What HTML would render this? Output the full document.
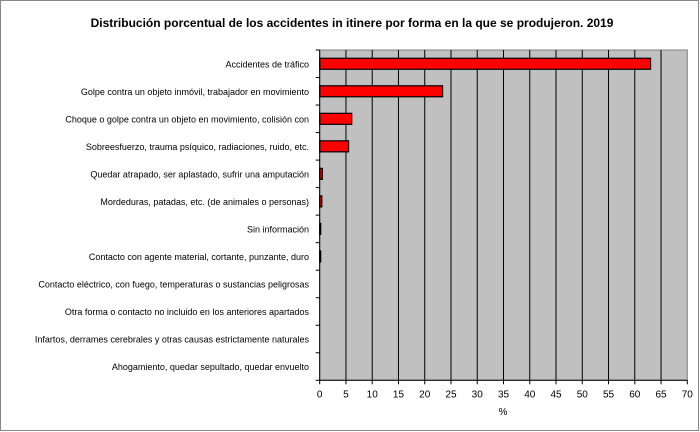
<!DOCTYPE html>
<html><head><meta charset="utf-8"><style>
body{margin:0;background:#fff}
svg{display:block;font-family:"Liberation Sans",Arial,sans-serif}
</style></head><body>
<svg id="chart" width="700" height="432">
<rect x="0.5" y="0.5" width="698" height="430" fill="#fff" stroke="#888"/>
<text x="352" y="27" text-anchor="middle" font-size="12" font-weight="bold">Distribución porcentual de los accidentes in itinere por forma en la que se produjeron. 2019</text>
<rect x="319.7" y="50" width="367.6" height="330.3" fill="#c0c0c0" stroke="#808080"/>
<g id="grid"></g><g id="bars"></g><g id="axes"></g>
<text x="503" y="415" text-anchor="middle" font-size="10">%</text>
</svg>
<script>
const categories=["Accidentes  de tráfico","Golpe contra un objeto inmóvil, trabajador en movimiento","Choque o golpe contra un objeto en movimiento, colisión con","Sobreesfuerzo, trauma psíquico, radiaciones, ruido, etc.","Quedar atrapado, ser aplastado, sufrir una amputación","Mordeduras, patadas, etc. (de animales o personas)","Sin información","Contacto con agente material, cortante, punzante, duro","Contacto eléctrico, con fuego, temperaturas  o sustancias peligrosas","Otra forma o contacto no incluido en los anteriores apartados","Infartos, derrames cerebrales y otras causas estrictamente naturales","Ahogamiento, quedar sepultado, quedar envuelto"];
const values=[63.0,23.4,6.1,5.5,0.5,0.4,0.1,0.1,0,0,0,0];
const ticks=[0,5,10,15,20,25,30,35,40,45,50,55,60,65,70];
const NS="http://www.w3.org/2000/svg";
const X0=319.7,X1=687.3,Y0=50,Y1=380.3,XMAX=70;
const x=v=>X0+(X1-X0)*v/XMAX;
const rowH=(Y1-Y0)/categories.length;
const y=i=>Y0+rowH*i;
function mk(tag,attrs,parent){const e=document.createElementNS(NS,tag);for(const k in attrs)e.setAttribute(k,attrs[k]);document.getElementById(parent).appendChild(e);return e;}
ticks.forEach(t=>{
 if(t>0&&t<XMAX){const g=mk('line',{x1:x(t),x2:x(t),y1:Y0,y2:Y1,stroke:'#000','stroke-width':1},'grid');
 
 }
 const tk=mk('line',{x1:x(t),x2:x(t),y1:Y1,y2:Y1+4,stroke:'#000'},'axes');
 
 
 const lb=mk('text',{x:x(t),y:Y1+17,'text-anchor':'middle','font-size':10},'axes');
 lb.textContent=t;
 
 
});
categories.forEach((c,i)=>{
 const cy=y(i)+rowH/2;
 const v=values[i];
 if(v>0){const b=mk('rect',{x:X0,y:cy-5.5,width:Math.max(x(v)-X0,1),height:11,fill:'#ff0000',stroke:'#000','stroke-width':1.2},'bars');
 
 }
 const lb=mk('text',{x:309,y:cy+3.5,'text-anchor':'end','font-size':9},'axes');
 lb.textContent=c;
 
 
});
for(let i=0;i<=categories.length;i++){
 const tk=mk('line',{x1:X0-4,x2:X0,y1:y(i),y2:y(i),stroke:'#000'},'axes');
 
 
}
const ya=mk('line',{x1:X0,x2:X0,y1:Y0,y2:Y1,stroke:'#000'},'axes');


const xa=mk('line',{x1:X0,x2:X1,y1:Y1,y2:Y1,stroke:'#000'},'axes');


</script>
</body></html>
